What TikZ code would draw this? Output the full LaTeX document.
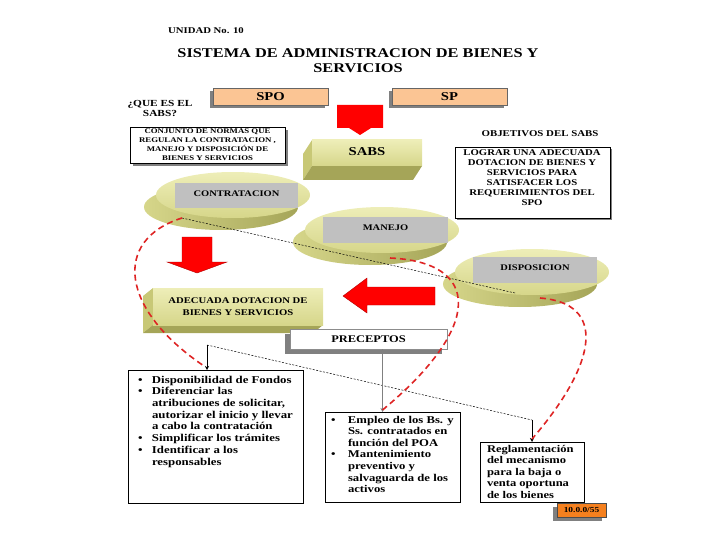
\documentclass[tikz,border=0pt]{standalone}
\usepackage{fontspec}
\setmainfont{Liberation Serif}[FakeStretch=1.22]
\usetikzlibrary{shapes.geometric,arrows.meta,calc,shadows}
\definecolor{peach}{RGB}{251,197,148}
\definecolor{olT}{RGB}{238,238,184}
\definecolor{olB}{RGB}{214,214,138}
\definecolor{olD}{RGB}{200,200,118}
\definecolor{olDD}{RGB}{165,165,88}
\definecolor{rectg}{RGB}{192,192,192}
\definecolor{shad}{RGB}{128,128,128}
\definecolor{redA}{RGB}{255,0,0}
\definecolor{redL}{RGB}{222,36,36}
\definecolor{orangeL}{RGB}{245,128,30}
\newcommand\fz[2]{\fontsize{#1}{#2}\selectfont\bfseries}
\begin{document}
\begin{tikzpicture}[x=1pt,y=-1pt,
  every node/.style={inner sep=0pt, outer sep=0pt},
  sbox/.style={draw=black, line width=0.7pt, fill=white},
  pbox/.style={draw=black!60, line width=0.5pt, fill=peach, minimum width=115pt, minimum height=17pt, font=\fz{12}{12},
    drop shadow={shadow xshift=-3pt, shadow yshift=-3pt, fill=shad, opacity=1}},
  topdisc/.style={ellipse, minimum width=154pt, minimum height=46pt, top color=olT, bottom color=olB},
  lowdisc/.style={ellipse, minimum width=154pt, minimum height=46pt, left color=olB, right color=olDD},
  grect/.style={fill=rectg, font=\fz{8.6}{9}},
  reddash/.style={draw=redL, line width=1.6pt, dash pattern=on 6pt off 4pt},
  blockarrow/.style={fill=redA, draw=red!70!black, line width=0.4pt},
  thinarrow/.style={line width=0.5pt, -{Stealth[length=4pt,width=4pt]}}
]
\useasboundingbox (0,0) rectangle (720,540);

% titles
\node (unidad) at (206,31) {\fz{8.8}{10}UNIDAD No. 10};
\node[align=center, font=\fz{13.4}{15}] (title) at (358,60.5) {SISTEMA DE ADMINISTRACION DE BIENES Y\\SERVICIOS};

% SPO / SP
\node[pbox] (spo) at (270.5,96.5) {SPO};
\node[pbox] (sp) at (449.5,96.5) {SP};
\node[align=center, font=\fz{9.3}{10}] (que) at (160,108) {¿QUE ES EL\\SABS?};

% conjunto
\node[sbox, minimum width=155pt, minimum height=36pt, align=center, font=\fz{7.2}{8.9},
  drop shadow={shadow xshift=3pt, shadow yshift=-3pt, fill=shad, opacity=1}] (conj) at (207.5,145)
  {CONJUNTO DE NORMAS QUE\\REGULAN LA CONTRATACION ,\\MANEJO Y DISPOSICIÓN DE\\BIENES Y SERVICIOS};

% top red arrow
\fill[redA] (337,105) -- (383,105) -- (383,128) -- (371,128) -- (360,135) -- (349,128) -- (337,128) -- cycle;

% SABS 3D box
\fill[olD] (312,140) -- (303,154) -- (303,180) -- (312,166) -- cycle;
\fill[olDD] (312,166) -- (303,180) -- (413,180) -- (422,166) -- cycle;
\node[top color=olT, bottom color=olB, minimum width=110pt, minimum height=26pt, font=\fz{12}{12}] (sabs) at (367,153) {\raisebox{3pt}{SABS}};

% objetivos
\node[font=\fz{8.9}{10}] (objl) at (540,134) {OBJETIVOS DEL SABS};
\node[sbox, minimum width=155pt, minimum height=71pt,
  drop shadow={shadow xshift=2pt, shadow yshift=-2pt, fill=shad, opacity=1}] (obj) at (532.5,182.5) {};
\node[align=center, font=\fz{8.8}{10}] (objt) at (532,178) {LOGRAR UNA ADECUADA\\DOTACION DE BIENES Y\\SERVICIOS PARA\\SATISFACER LOS\\REQUERIMIENTOS DEL\\SPO};

% discs
\node[lowdisc] (contU) at (221,207) {};
\node[topdisc] (contT) at (233,195) {};
\node[grect, minimum width=123pt, minimum height=25pt] (contR) at (236.5,195.5) {\raisebox{4pt}{CONTRATACION}};

\node[lowdisc] (manU) at (370,242) {};
\node[topdisc] (manT) at (382,230) {};
\node[grect, minimum width=125pt, minimum height=26pt] (manR) at (385.5,230) {\raisebox{4pt}{MANEJO}};

\node[lowdisc] (dispU) at (520,284) {};
\node[topdisc] (dispT) at (532,272) {};
\node[grect, minimum width=124pt, minimum height=26pt] (dispR) at (535,270) {\raisebox{4pt}{DISPOSICION}};

% red block arrows
\filldraw[blockarrow] (182,237) -- (212,237) -- (212,262) -- (227,262) -- (197,273) -- (167,262) -- (182,262) -- cycle;
\filldraw[blockarrow] (435,287) -- (367,287) -- (367,278) -- (343,296) -- (367,313) -- (367,305) -- (435,305) -- cycle;

% ADECUADA 3D box
\fill[olD] (153,288) -- (143,296) -- (143,333) -- (153,325) -- cycle;
\fill[olDD] (153,325) -- (143,333) -- (313,333) -- (323,325) -- cycle;
\node[top color=olT, bottom color=olB, minimum width=170pt, minimum height=37pt, align=center, font=\fz{8.75}{11.7}] (adec) at (238,306.5) {ADECUADA DOTACION DE\\BIENES Y SERVICIOS};

% PRECEPTOS
\node[fill=white, draw=black!45, line width=0.5pt, minimum width=157pt, minimum height=20pt, font=\fz{10.2}{11},
  drop shadow={shadow xshift=-5pt, shadow yshift=-5pt, fill=shad, opacity=1}] (prec) at (368.5,339) {PRECEPTOS};

% bottom boxes
\node[sbox, minimum width=175pt, minimum height=133pt] (lbox) at (215.5,436.5) {};
\node[anchor=north west, font=\fz{10.5}{11.7}] (ltxt) at (138,375) {%
\begin{tabular}{@{}l@{}l@{}}
\makebox[14pt][l]{\textbullet} & Disponibilidad de Fondos\\
\makebox[14pt][l]{\textbullet} & Diferenciar las\\
 & atribuciones de solicitar,\\
 & autorizar el inicio y llevar\\
 & a cabo la contratación\\
\makebox[14pt][l]{\textbullet} & Simplificar los trámites\\
\makebox[14pt][l]{\textbullet} & Identificar a los\\
 & responsables
\end{tabular}};

\node[sbox, minimum width=135pt, minimum height=90pt] (mbox) at (392.5,457) {};
\node[anchor=north west, font=\fz{10.4}{11.6}] (mtxt) at (331,415) {%
\begin{tabular}{@{}l@{}l@{}}
\makebox[17pt][l]{\textbullet} & Empleo de los Bs. y\\
 & Ss. contratados en\\
 & función del POA\\
\makebox[17pt][l]{\textbullet} & Mantenimiento\\
 & preventivo y\\
 & salvaguarda de los\\
 & activos
\end{tabular}};

\node[sbox, minimum width=104pt, minimum height=60pt] (rbox) at (532,472) {};
\node[anchor=north west, align=left, font=\fz{10.3}{11.6}] (rtxt) at (487,445) {Reglamentación\\del mecanismo\\para la baja o\\venta oportuna\\de los bienes};

% code label
\node[fill=orangeL, draw=black!70, line width=0.4pt, minimum width=49pt, minimum height=14pt, font=\fz{7.7}{8},
  drop shadow={shadow xshift=-4pt, shadow yshift=-4pt, fill=shad, opacity=1}] (code) at (581.5,510) {10.0.0/55};

% connectors
\coordinate (split) at (207,345);
\coordinate (bend) at (532,420);
\coordinate (cs) at (182,218);
\coordinate (ce) at (515,293);
\coordinate (ms) at (390,258);
\coordinate (ds) at (540,298);

\draw[black, line width=0.5pt, dash pattern=on 2pt off 1.5pt] (cs) -- (ce);
\draw[thinarrow] (split) -- ($(lbox.north)+(-8.5,0)$);
\draw[black, line width=0.5pt, dash pattern=on 2pt off 1.5pt] (split) -- (bend);
\draw[thinarrow] (bend) -- (rbox.north);
\draw[thinarrow, draw=black!50] ($(prec.south)+(14,0)$) -- ($(mbox.north)+(-10,0)$);

\draw[reddash] (cs) .. controls (112,240) and (120,310) .. ($(lbox.north)+(-10,-3)$);
\draw[reddash] (ms) .. controls (480,262) and (485,325) .. ($(mbox.north)+(-10,-2)$);
\draw[reddash] (ds) .. controls (605,303) and (600,360) .. ($(rbox.north)+(0,-3)$);
\end{tikzpicture}
\end{document}
